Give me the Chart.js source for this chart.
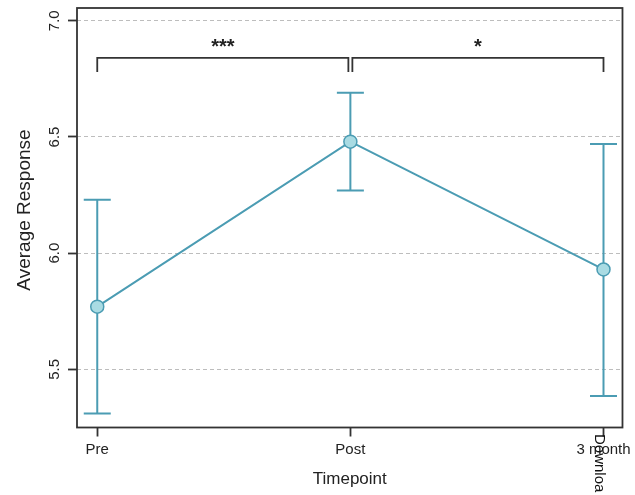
<!DOCTYPE html>
<html>
<head>
<meta charset="utf-8">
<script src="https://cdn.jsdelivr.net/npm/chart.js@4.4.1/dist/chart.umd.min.js"></script>
<style>
  html, body { margin: 0; padding: 0; background: #fff; }
  .chart { width: 635px; height: 495px; position: relative; }
</style>
</head>
<body>
<div class="chart"><canvas></canvas></div>
<script>
const timepoints = ["Pre", "Post", "3 month"];
const means = [5.77, 6.48, 5.93];
const upper = [6.23, 6.69, 6.47];
const lower = [5.31, 6.27, 5.385];
const yTicks = [5.5, 6.0, 6.5, 7.0];

// significance brackets between timepoints
const sigFrom = [0, 1];
const sigTo = [1, 2];
const sigLabels = ["***", "*"];
const bracketTop = 6.84;
const bracketBottom = 6.78;

const colors = {
  teal: "#4b9cb3",
  tealLight: "#a9dbe3",
  ink: "#333333",
  text: "#222222",
  grid: "#bdbdbd",
};
const fontFamily = "'Liberation Sans', Arial, sans-serif";

const errorBars = {
  id: "errorBars",
  beforeDatasetsDraw(chart) {
    const { ctx, scales: { x, y } } = chart;
    ctx.save();
    ctx.strokeStyle = colors.teal;
    ctx.lineWidth = 2;
    timepoints.forEach((_, i) => {
      const px = x.getPixelForValue(i);
      const top = y.getPixelForValue(upper[i]);
      const bot = y.getPixelForValue(lower[i]);
      ctx.beginPath();
      ctx.moveTo(px, top);
      ctx.lineTo(px, bot);
      ctx.moveTo(px - 13.5, top);
      ctx.lineTo(px + 13.5, top);
      ctx.moveTo(px - 13.5, bot);
      ctx.lineTo(px + 13.5, bot);
      ctx.stroke();
    });
    ctx.restore();
  },
};

const decorations = {
  id: "decorations",
  afterDraw(chart) {
    const { ctx, chartArea: area, scales: { x, y } } = chart;
    ctx.save();

    // box round the plot
    ctx.strokeStyle = colors.ink;
    ctx.lineWidth = 1.8;
    ctx.strokeRect(area.left, area.top, area.right - area.left, area.bottom - area.top);

    // brackets
    ctx.lineWidth = 1.8;
    const yb = y.getPixelForValue(bracketTop);
    const ye = y.getPixelForValue(bracketBottom);
    sigFrom.forEach((a, k) => {
      const x1 = x.getPixelForValue(a) + (a > 0 ? 2 : 0);
      const x2 = x.getPixelForValue(sigTo[k]) - (sigTo[k] < timepoints.length - 1 ? 2 : 0);
      ctx.beginPath();
      ctx.moveTo(x1, ye);
      ctx.lineTo(x1, yb);
      ctx.lineTo(x2, yb);
      ctx.lineTo(x2, ye);
      ctx.stroke();
      ctx.fillStyle = colors.text;
      ctx.font = "bold 20px " + fontFamily;
      ctx.textAlign = "center";
      ctx.textBaseline = "alphabetic";
      ctx.fillText(sigLabels[k], (x1 + x2) / 2, yb - 5);
    });

    // y tick labels, rotated as in base R
    ctx.fillStyle = colors.text;
    ctx.font = "15px " + fontFamily;
    ctx.textAlign = "center";
    ctx.textBaseline = "middle";
    yTicks.forEach((v) => {
      ctx.save();
      ctx.translate(55, y.getPixelForValue(v));
      ctx.rotate(-Math.PI / 2);
      ctx.fillText(v.toFixed(1), 0, 0);
      ctx.restore();
    });

    // axis titles
    ctx.font = "19px " + fontFamily;
    ctx.save();
    ctx.translate(25, 210);
    ctx.rotate(-Math.PI / 2);
    ctx.fillText("Average Response", 0, 0);
    ctx.restore();

    ctx.font = "17px " + fontFamily;
    ctx.fillText("Timepoint", (area.left + area.right) / 2, 479);

    // stray watermark from the source page
    ctx.fillStyle = "#111";
    ctx.font = "15px " + fontFamily;
    ctx.textAlign = "left";
    ctx.save();
    ctx.translate(599, 434);
    ctx.rotate(Math.PI / 2);
    ctx.fillText("Downloa", 0, 0);
    ctx.restore();

    ctx.restore();
  },
};

const ctx = document.querySelector(".chart canvas").getContext("2d");

new Chart(ctx, {
  type: "line",
  data: {
    datasets: [
      {
        data: means.map((m, i) => ({ x: i, y: m })),
        borderColor: colors.teal,
        borderWidth: 2,
        pointRadius: 6.5,
        pointBackgroundColor: colors.tealLight,
        pointBorderColor: colors.teal,
        pointBorderWidth: 1.5,
        tension: 0,
      },
    ],
  },
  options: {
    responsive: true,
    maintainAspectRatio: false,
    animation: false,
    layout: {
      padding: { top: 5, right: 11.5, bottom: 0, left: 0 },
    },
    plugins: {
      legend: { display: false },
      tooltip: { enabled: false },
    },
    scales: {
      x: {
        type: "linear",
        min: -0.08,
        max: 2.075,
        afterBuildTicks: (scale) => {
          scale.ticks = timepoints.map((_, i) => ({ value: i }));
        },
        afterFit: (scale) => {
          scale.height = 67.5;
        },
        ticks: {
          callback: (v) => timepoints[v],
          color: colors.text,
          font: { family: fontFamily, size: 15 },
          padding: 4,
          maxRotation: 0,
          autoSkip: false,
        },
        grid: {
          drawOnChartArea: false,
          drawTicks: true,
          tickLength: 9,
          tickColor: colors.ink,
          tickWidth: 1.8,
        },
        border: { display: false },
      },
      y: {
        min: 5.25,
        max: 7.055,
        afterBuildTicks: (scale) => {
          scale.ticks = yTicks.map((v) => ({ value: v }));
        },
        afterFit: (scale) => {
          scale.width = 77;
        },
        ticks: { display: false },
        grid: {
          color: colors.grid,
          lineWidth: 1,
          drawTicks: true,
          tickLength: 9,
          tickColor: colors.ink,
          tickWidth: 1.8,
          tickBorderDash: [],
        },
        border: { display: false, dash: [4, 3] },
      },
    },
  },
  plugins: [errorBars, decorations],
});
</script>
</body>
</html>
